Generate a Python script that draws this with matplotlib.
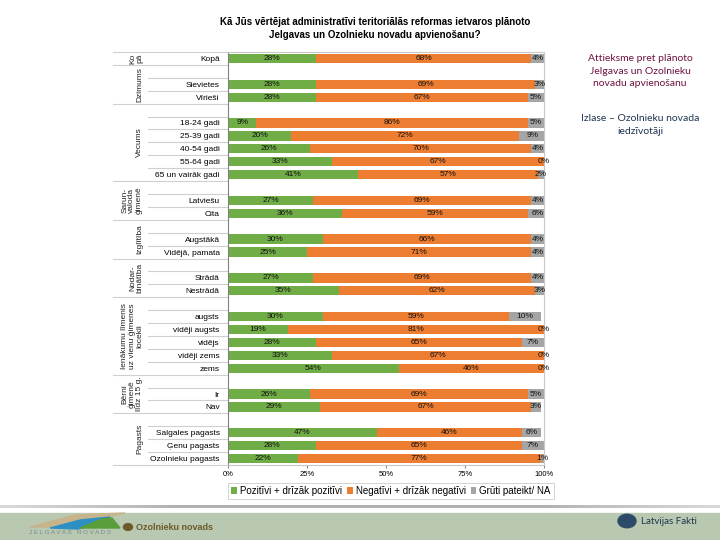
import numpy as np
import matplotlib
matplotlib.use('Agg')
import matplotlib.pyplot as plt
import matplotlib.transforms as mtransforms
from matplotlib.patches import Rectangle, Polygon, Circle

plt.rcParams['font.family'] = ['Liberation Sans', 'DejaVu Sans']

nan = np.nan

categories = ['Kopā', '', 'Sievietes', 'Vīrieši', '',
              '18-24 gadi', '25-39 gadi', '40-54 gadi', '55-64 gadi', '65 un vairāk gadi', '',
              'Latviešu', 'Cita', '',
              'Augstākā', 'Vidējā, pamata', '',
              'Strādā', 'Nestrādā', '',
              'augsts', 'vidēji augsts', 'vidējs', 'vidēji zems', 'zems', '',
              'Ir', 'Nav', '',
              'Salgales pagasts', 'Ģenu pagasts', 'Ozolnieku pagasts']

pozitivi = [28, nan, 28, 28, nan,
            9, 20, 26, 33, 41, nan,
            27, 36, nan,
            30, 25, nan,
            27, 35, nan,
            30, 19, 28, 33, 54, nan,
            26, 29, nan,
            47, 28, 22]

negativi = [68, nan, 69, 67, nan,
            86, 72, 70, 67, 57, nan,
            69, 59, nan,
            66, 71, nan,
            69, 62, nan,
            59, 81, 65, 67, 46, nan,
            69, 67, nan,
            46, 65, 77]

gruti = [4, nan, 3, 5, nan,
         5, 9, 4, 0, 2, nan,
         4, 6, nan,
         4, 4, nan,
         4, 3, nan,
         10, 0, 7, 0, 0, nan,
         5, 3, nan,
         6, 7, 1]

# group label, first row, last row
groups = [('Ko\npā', 0, 0),
          ('Dzimums', 1, 3),
          ('Vecums', 4, 9),
          ('Sarun-\nvaloda\nģimenē', 10, 12),
          ('Izglītība', 13, 15),
          ('Nodar-\nbinātība', 16, 18),
          ('Ienākumu līmenis\nuz vienu ģimenes\nlocekli', 19, 24),
          ('Bērni\nģimenē\nlīdz 15 g.', 25, 27),
          ('Pagasts', 28, 31)]

series_names = ['Pozitīvi + drīzāk pozitīvi', 'Negatīvi + drīzāk negatīvi', 'Grūti pateikt/ NA']
colors = ['#70AD47', '#ED7D31', '#A5A5A5']

W, H = 720, 540
fig = plt.figure(figsize=(7.2, 5.4), dpi=100)
ax = fig.add_axes([228 / W, 1 - 465 / H, 316 / W, 413 / H])

y = np.arange(len(categories))
left = np.zeros(len(categories))
for vals, c, name in zip([pozitivi, negativi, gruti], colors, series_names):
    v = np.array(vals, dtype=float)
    ax.barh(y, np.nan_to_num(v), left=left, height=0.72, color=c, label=name, linewidth=0)
    for i in range(len(v)):
        if not np.isnan(v[i]):
            ax.text(left[i] + v[i] / 2, y[i], '%d%%' % v[i], ha='center', va='center',
                    fontsize=6, color='#111111')
    left = left + np.nan_to_num(v)

ax.set_ylim(len(categories) - 0.5, -0.5)
ax.set_xlim(0, 100)
ax.set_yticks(y)
ax.set_yticklabels(categories, fontsize=6)
ax.tick_params(axis='y', length=0, pad=6)
ax.set_xticks([0, 25, 50, 75, 100])
ax.set_xticklabels(['0%', '25%', '50%', '75%', '100%'], fontsize=5.5)
ax.tick_params(axis='x', length=2, pad=2, color='#888888')
for s in ax.spines.values():
    s.set_color('#c8c8c8')
    s.set_linewidth(0.8)
ax.spines['left'].set_color('#808080')

# multi-level axis: separators and group labels
tr = mtransforms.blended_transform_factory(fig.transFigure, ax.transData)
for label, a, b in groups:
    ax.plot([113 / W, 228 / W], [a - 0.5, a - 0.5], transform=tr, color='#d0d0d0',
            lw=0.8, clip_on=False)
    for k in range(a + 1, b + 1):
        ax.plot([148 / W, 228 / W], [k - 0.5, k - 0.5], transform=tr, color='#d0d0d0',
                lw=0.8, clip_on=False)
    ax.text(143 / W, (a + b) / 2, label, transform=tr, rotation=90, ha='right', va='center',
            multialignment='center', fontsize=6, color='#222222', linespacing=1.0)
ax.plot([113 / W, 228 / W], [len(categories) - 0.5] * 2, transform=tr, color='#d0d0d0',
        lw=0.8, clip_on=False)

fig.text(375 / W, 1 - 28.5 / H,
         'Kā Jūs vērtējat administratīvi teritoriālās reformas ietvaros plānoto\n'
         'Jelgavas un Ozolnieku novadu apvienošanu?',
         ha='center', va='center', fontsize=7, fontweight='bold', linespacing=1.3)

leg = fig.legend(loc='center', bbox_to_anchor=(391 / W, 1 - 491 / H), ncol=3, fontsize=7,
                 handlelength=0.6, handleheight=0.6, handletextpad=0.3, columnspacing=0.5,
                 frameon=True, fancybox=False, borderpad=0.3, borderaxespad=0)
leg.get_frame().set_edgecolor('#bfbfbf')
leg.get_frame().set_linewidth(0.6)

fig.text(640 / W, 1 - 71 / H, 'Attieksme pret plānoto\nJelgavas un Ozolnieku\nnovadu apvienošanu',
         ha='center', va='center', fontsize=7.5, color='#6e1442', linespacing=1.45,
         family=['Lato', 'DejaVu Sans'])
fig.text(640 / W, 1 - 125 / H, 'Izlase – Ozolnieku novada\niedzīvotāji',
         ha='center', va='center', fontsize=7.5, color='#1e3550', linespacing=1.45,
         family=['Lato', 'DejaVu Sans'])

# footer band and logos
gax = fig.add_axes([0, 1 - 508 / H, 1, 3 / H])
grad = np.concatenate([np.linspace(0, 1, 60), np.ones(120), np.linspace(1, 0, 60)])
gax.imshow(grad[np.newaxis, :], aspect='auto', cmap='Greys', vmin=-1.5, vmax=4.5)
gax.axis('off')
fig.patches.append(Rectangle((0, 0), 1, 27 / H, transform=fig.transFigure,
                             color='#b9c8b1', zorder=0))
fig.patches.append(Polygon([(30 / W, 1 - 527 / H), (75 / W, 1 - 515 / H), (125 / W, 1 - 513 / H),
                            (85 / W, 1 - 522 / H), (60 / W, 1 - 527 / H)],
                           transform=fig.transFigure, color='#c8b48a', zorder=1))
fig.patches.append(Polygon([(50 / W, 1 - 528 / H), (80 / W, 1 - 520 / H), (110 / W, 1 - 517 / H),
                            (100 / W, 1 - 524 / H), (78 / W, 1 - 529 / H)],
                           transform=fig.transFigure, color='#2e8fc4', zorder=1))
fig.patches.append(Polygon([(80 / W, 1 - 528 / H), (102 / W, 1 - 519 / H), (112 / W, 1 - 518 / H),
                            (120 / W, 1 - 528 / H)],
                           transform=fig.transFigure, color='#5a9e3a', zorder=1))
fig.text(70 / W, 1 - 532 / H, 'J E L G A V A S   N O V A D S', ha='center', va='center',
         fontsize=4.5, color='#7a8a90')
fig.patches.append(Circle((128 / W, 1 - 527 / H), 4.5 / W, transform=fig.transFigure,
                          color='#6b5a2a', zorder=1))
fig.text(136 / W, 1 - 527 / H, 'Ozolnieku novads', ha='left', va='center', fontsize=6.5,
         fontweight='bold', color='#6b5a2a')
fig.patches.append(Circle((627 / W, 1 - 521 / H), 9 / W, transform=fig.transFigure,
                          color='#2d4a68', zorder=1))
fig.text(641 / W, 1 - 521 / H, 'Latvijas Fakti', ha='left', va='center', fontsize=7,
         color='#1e3550', family=['Lato', 'DejaVu Sans'])

fig.savefig('out.png', dpi=100)
